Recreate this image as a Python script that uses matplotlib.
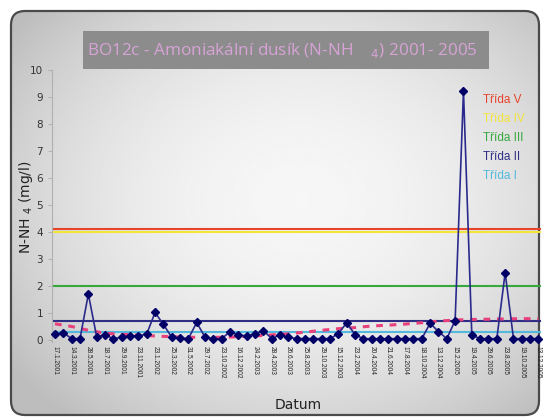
import numpy as np
import matplotlib.pyplot as plt
from matplotlib.patches import FancyBboxPatch, Rectangle

# data (59 samples, labels on every other sample)
date_labels = ["17.1.2001", "14.3.2001", "28.5.2001", "18.7.2001", "29.9.2001",
               "23.11.2001", "23.1.2002", "25.3.2002", "31.5.2002", "29.7.2002",
               "23.10.2002", "16.12.2002", "24.2.2003", "28.4.2003", "26.6.2003",
               "25.8.2003", "29.10.2003", "15.12.2003", "23.2.2004", "20.4.2004",
               "21.6.2004", "17.8.2004", "18.10.2004", "13.12.2004", "15.2.2005",
               "19.4.2005", "29.6.2005", "23.8.2005", "19.10.2005", "13.12.2005"]

nh4 = [0.21, 0.27, 0.05, 0.05, 1.70, 0.12, 0.19, 0.05, 0.10, 0.15,
       0.15, 0.22, 1.02, 0.58, 0.10, 0.06, 0.05, 0.65, 0.10, 0.05,
       0.05, 0.31, 0.19, 0.15, 0.22, 0.35, 0.05, 0.19, 0.10, 0.05,
       0.05, 0.05, 0.05, 0.05, 0.24, 0.64, 0.19, 0.05, 0.05, 0.05,
       0.05, 0.05, 0.05, 0.05, 0.05, 0.62, 0.31, 0.05, 0.72, 9.23,
       0.18, 0.05, 0.05, 0.05, 2.49, 0.05, 0.05, 0.05, 0.05]

# trend line values read at every labelled sample
trend = [0.60, 0.50, 0.36, 0.25, 0.21, 0.18, 0.15, 0.12, 0.10, 0.10,
         0.10, 0.12, 0.15, 0.19, 0.23, 0.29, 0.36, 0.42, 0.46, 0.52,
         0.55, 0.59, 0.64, 0.70, 0.74, 0.76, 0.77, 0.78, 0.79, 0.79]

classes = ["Třída V", "Třída IV", "Třída III", "Třída II", "Třída I"]
class_limits = [4.1, 4.0, 2.0, 0.7, 0.3]
class_colors = ["#e8432c", "#f2e43a", "#36a83e", "#2e2e86", "#52b8dc"]

W, H = 544, 420
fig = plt.figure(figsize=(W / 100, H / 100), dpi=100)

# background panel with gradient and rounded border
bg = fig.add_axes([0, 0, 1, 1])
bg.set_xlim(0, W)
bg.set_ylim(H, 0)
bg.axis("off")
gx, gy = np.meshgrid(np.linspace(0, W, 300), np.linspace(0, H, 240))
d = ((gx - 300) / 340) ** 2 + ((gy - 200) / 270) ** 2
shade = np.clip(0.965 - 0.2 * d, 0.74, 1)
panel = FancyBboxPatch((11, 11), 528, 404, boxstyle="round,pad=0,rounding_size=14",
                       fc="none", ec="#4a4a4a", lw=1.6)
bg.add_patch(panel)
im = bg.imshow(shade, cmap="gray", vmin=0, vmax=1, extent=(0, W, H, 0), aspect="auto")
im.set_clip_path(panel)

# title bar
bg.add_patch(Rectangle((83, 31), 406, 38, fc="#8c8c8c", ec="none"))
bg.text(87, 51, "BO12c - Amoniakální dusík (N-NH    $_4$) 2001- 2005", color="#d7a3d6",
        fontsize=12.3, family="Open Sans", va="center", ha="left")

# main axes
ax = fig.add_axes([52 / W, 1 - 342 / H, 489 / W, 272 / H])
ax.patch.set_alpha(0)
x = np.arange(len(nh4))
xt = x[::2]

for lim, col in zip(class_limits, class_colors):
    ax.axhline(lim, color=col, lw=1.5)
ax.plot(xt, trend, color="#e8407c", lw=2.2, ls=(0, (2.2, 2.2)))
ax.plot(x, nh4, color="#2a2a8c", lw=1.2, marker="D", ms=4.5,
        mfc="#000066", mec="#000066", clip_on=False, zorder=5)

ax.set_xlim(-0.36, 58.3)
ax.set_ylim(-0.074, 10)
ax.set_yticks(range(0, 11))
ax.tick_params(axis="y", labelsize=7.5, labelcolor="#333333", length=3, width=0.6,
               color="#aaaaaa")
ax.set_xticks(xt)
ax.set_xticklabels(date_labels, rotation=270, fontsize=4.7, color="#222222",
                   family="Liberation Sans")
ax.tick_params(axis="x", length=0, pad=3)
for s in ["top", "right", "bottom"]:
    ax.spines[s].set_visible(False)
ax.spines["left"].set_color("#b0b0b0")
ax.spines["left"].set_linewidth(0.8)

fig.text(26 / W, 1 - 207 / H, "N-NH $_4$ (mg/l)", fontsize=10, color="#222222",
         rotation=90, ha="center", va="center")
fig.text(298 / W, 1 - 405 / H, "Datum", fontsize=10, color="#222222",
         ha="center", va="center")

# coloured legend text
for i, (name, col) in enumerate(zip(classes, class_colors)):
    fig.text(483 / W, 1 - (100 + 19 * i) / H, name, color=col, fontsize=8.5,
             family="Liberation Sans", ha="left", va="center")

fig.savefig("out.png", dpi=100)
